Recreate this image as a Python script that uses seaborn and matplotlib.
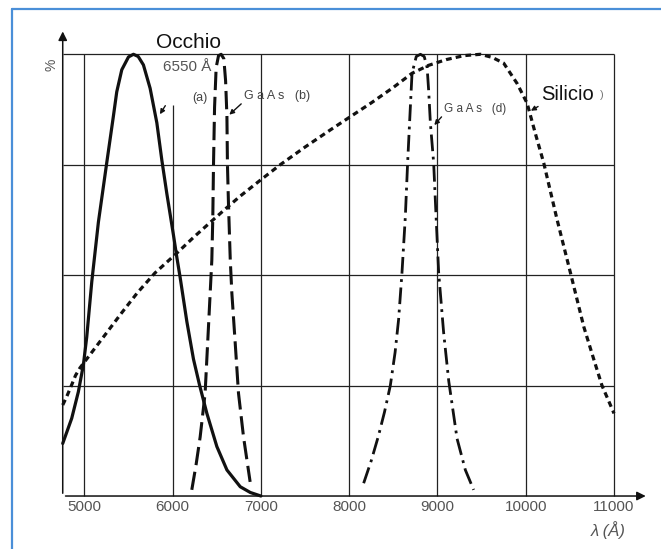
import numpy as np
import pandas as pd
import matplotlib
matplotlib.use("Agg")
import matplotlib.pyplot as plt
import seaborn as sns

#%% data (x in Angstrom, y in %)
occhio_x = [4755, 4857, 4932, 4989, 5027, 5084, 5159, 5254, 5329, 5367, 5424, 5500, 5556,
            5610, 5669, 5745, 5821, 5878, 5934, 6010, 6048, 6085, 6161, 6236, 6304, 6388,
            6501, 6615, 6766, 6880, 7000]
occhio_y = [11.9, 17.6, 23.6, 29.7, 36.0, 48.5, 62.0, 75.5, 86.0, 91.5, 96.5, 99.4, 100.0,
            99.5, 97.6, 92.3, 84.5, 76.0, 68.5, 59.0, 54.0, 49.5, 39.5, 31.0, 25.2, 18.7,
            11.2, 5.9, 2.1, 0.8, 0.0]

gaas_b_x = [6217, 6265, 6312, 6368, 6406, 6444, 6455, 6463, 6475, 6493, 6520, 6550,
            6580, 6600, 6615, 6621, 6633, 6653, 6671, 6709, 6746, 6803, 6878]
gaas_b_y = [1.4, 7.0, 13.4, 23.3, 38.3, 53.4, 63.0, 75.0, 88.0, 97.0, 99.7, 100.0,
            99.0, 94.0, 86.0, 75.0, 65.9, 53.4, 45.9, 34.6, 23.3, 13.4, 3.2]

gaas_d_x = [8164, 8250, 8330, 8400, 8466, 8520, 8560, 8598, 8636, 8662, 8693, 8712,
            8760, 8807, 8850, 8883, 8900, 8920, 8957, 8985, 9014, 9070, 9128, 9222,
            9316, 9410]
gaas_d_y = [2.9, 8.0, 13.5, 19.0, 25.0, 32.5, 40.0, 50.5, 63.2, 75.4, 88.1, 95.7,
            99.5, 100.0, 99.5, 97.0, 91.9, 84.4, 75.4, 63.0, 50.5, 37.0, 26.0, 13.0,
            5.9, 1.4]

silicio_x = [4755, 4800, 4855, 4900, 4950, 5045, 5235, 5424, 5600, 5800, 6048,
             6250, 6463, 6615, 6766, 7000, 7219, 7500, 7788, 8015, 8250, 8500, 8712,
             8900, 9100, 9300, 9486, 9620, 9750, 9902, 10016, 10110, 10204, 10356,
             10507, 10658, 10770, 10864, 10940, 11000]
silicio_y = [20.6, 22.5, 25.1, 27.3, 29.0, 31.5, 36.5, 41.5, 46.0, 50.5, 55.0,
             58.8, 62.6, 65.3, 67.9, 71.6, 75.0, 79.0, 82.9, 85.9, 89.0, 92.5, 95.7,
             97.5, 98.8, 99.7, 100.0, 99.3, 98.0, 93.4, 88.9, 82.0, 75.4, 62.5,
             50.5, 38.3, 31.0, 25.0, 21.5, 18.7]

x_ticks = [5000, 6000, 7000, 8000, 9000, 10000, 11000]
y_grid = [25, 50, 75, 100]

#%% figure
sns.set_theme(style="white")
plt.rcParams['font.family'] = ['Liberation Sans', 'DejaVu Sans']

fig = plt.figure(figsize=(6.61, 5.49), dpi=100)
fig.patch.set_facecolor('white')
ax = fig.add_axes([0.0949, 0.0965, 0.834, 0.8046])
ax.set_xlim(4755, 11000)
ax.set_ylim(0, 100)
for s in ax.spines.values():
    s.set_visible(False)

# grid
grid_kw = dict(color='#222222', lw=0.9, clip_on=False, zorder=1)
ax.hlines(y_grid, 4755, 11000, **grid_kw)
for xv in x_ticks:
    top = 88.5 if xv == 6000 else 100
    ax.vlines(xv, 0, top, **grid_kw)

# axes with arrows
arr = dict(arrowstyle='-|>', lw=1.1, color='#111111', mutation_scale=13)
ax.annotate('', xy=(11391, 0), xytext=(4755, 0), arrowprops=arr, annotation_clip=False)
ax.annotate('', xy=(4755, 105.8), xytext=(4755, 0), arrowprops=arr, annotation_clip=False)

# curves
sns.lineplot(x=occhio_x, y=occhio_y, ax=ax, color='#111111', lw=2.3, clip_on=False, zorder=3)
sns.lineplot(x=gaas_b_x, y=gaas_b_y, ax=ax, color='#111111', lw=2.2, clip_on=False,
             linestyle=(0, (6.0, 2.2)), zorder=3)
sns.lineplot(x=gaas_d_x, y=gaas_d_y, ax=ax, color='#111111', lw=2.0, clip_on=False,
             linestyle=(0, (6.0, 2.0, 1.0, 2.0)), zorder=3)
sns.lineplot(x=silicio_x, y=silicio_y, ax=ax, color='#111111', lw=2.3, clip_on=False,
             linestyle=(0, (1.8, 1.3)), zorder=3)

# ticks
ax.set_xticks(x_ticks)
ax.set_xticklabels([str(v) for v in x_ticks])
ax.set_yticks([])
ax.tick_params(axis='x', length=0, pad=3, labelsize=11, labelcolor='#555555')

# labels
ax.text(6176, 102.6, 'Occhio', fontsize=15, ha='center', va='center', color='#111111')
ax.text(5894, 97.1, '6550 Å', fontsize=11, ha='left', va='center', color='#555555')
ax.text(6313, 90.2, '(a)', fontsize=9, ha='center', va='center', color='#444444')
ax.text(6805, 90.6, 'G a A s   (b)', fontsize=9, ha='left', va='center', color='#444444')
ax.text(9070, 87.6, 'G a A s   (d)', fontsize=8.5, ha='left', va='center', color='#444444')
ax.text(10170, 90.8, 'Silicio', fontsize=14.5, ha='left', va='center', color='#111111')
ax.text(10840, 90.8, ')', fontsize=8, ha='left', va='center', color='#777777')
ax.text(4630, 97.6, '%', fontsize=10, rotation=90, ha='center', va='center', color='#555555')
ax.text(10930, -7.7, 'λ (Å)', fontsize=12, style='italic', ha='center', va='center',
        color='#555555')

# leader arrows from labels to curves
lead = dict(arrowstyle='-|>', lw=1.0, color='#111111', mutation_scale=7)
ax.annotate('', xy=(5839, 85.9), xytext=(5934, 88.9), arrowprops=lead)
ax.annotate('', xy=(6619, 85.9), xytext=(6800, 89.2), arrowprops=lead)
ax.annotate('', xy=(8943, 83.5), xytext=(9067, 86.3), arrowprops=lead)
ax.annotate('', xy=(10031, 86.9), xytext=(10167, 88.5), arrowprops=lead)

# blue scan frame (left and top)
fig.add_artist(plt.Line2D([0.018, 0.018], [0, 0.984], color='#4a8fd8', lw=1.6,
                          transform=fig.transFigure))
fig.add_artist(plt.Line2D([0.018, 1.0], [0.984, 0.984], color='#4a8fd8', lw=1.6,
                          transform=fig.transFigure))

fig.savefig('out.png', dpi=100)
